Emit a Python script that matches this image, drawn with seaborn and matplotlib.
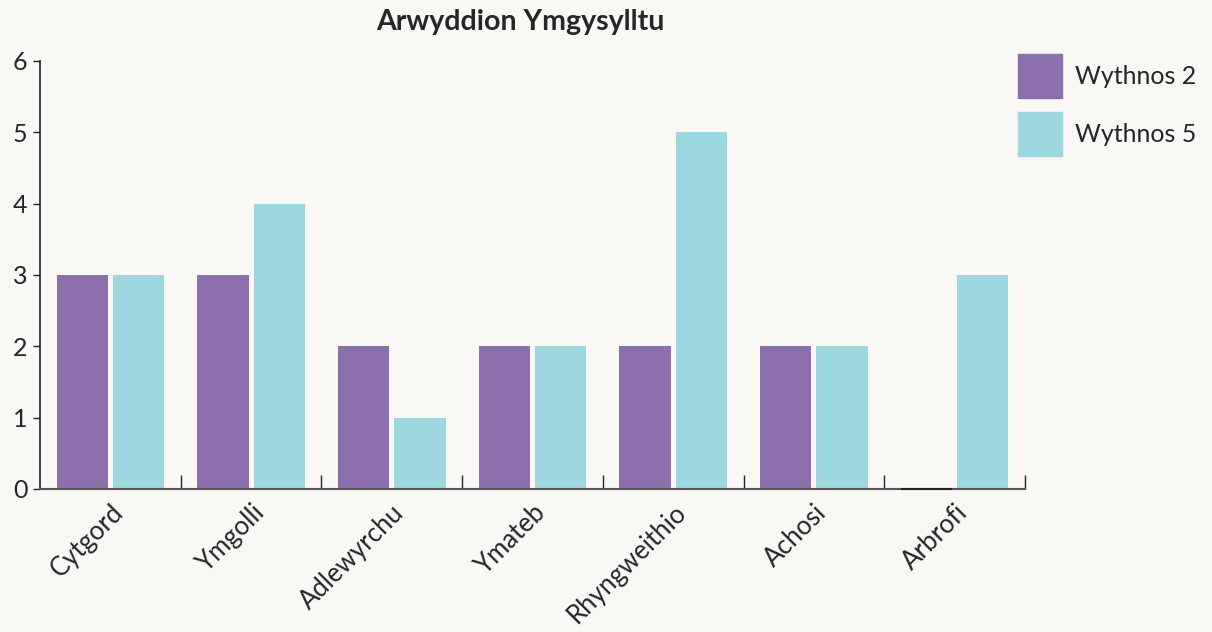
import numpy as np
import pandas as pd
import matplotlib
matplotlib.use("Agg")
import matplotlib.pyplot as plt
import seaborn as sns

# data
categories = ["Cytgord", "Ymgolli", "Adlewyrchu", "Ymateb", "Rhyngweithio", "Achosi", "Arbrofi"]
week2 = [3, 3, 2, 2, 2, 2, 0]
week5 = [3, 4, 1, 2, 5, 2, 3]
series = ["Wythnos 2", "Wythnos 5"]
colors = ["#8e6fad", "#9dd7e0"]
bg = "#f9f8f5"

df = pd.DataFrame({
    "cat": categories * 2,
    "val": week2 + week5,
    "wk": [series[0]] * len(categories) + [series[1]] * len(categories),
})

sns.set_style("white")
plt.rcParams["font.family"] = ["Lato", "DejaVu Sans"]

fig = plt.figure(figsize=(12.12, 6.32), dpi=100, facecolor=bg)
ax = fig.add_axes([40 / 1212, 1 - 489 / 632, (1025 - 40) / 1212, (489 - 61) / 632])
ax.set_facecolor(bg)

sns.barplot(data=df, x="cat", y="val", hue="wk", palette=colors, saturation=1,
            width=0.8, gap=0.09, linewidth=0, ax=ax, legend=False)

# zero height bar shows as a dark line in the original
for p in ax.patches:
    if p.get_height() == 0:
        p.set_edgecolor("#222222")
        p.set_linewidth(1.5)
        p.set_zorder(5)
        p.set_clip_on(False)

ax.set_xlim(-0.5, len(categories) - 0.5)
ax.set_ylim(0, 6)
ax.set_yticks(range(7))
ax.set_xlabel("")
ax.set_ylabel("")
ax.set_title("Arwyddion Ymgysylltu", fontsize=20.5, fontweight="bold", pad=22, x=0.488)

ax.set_xticks(range(len(categories)))
ax.set_xticklabels(categories, rotation=45, ha="right", rotation_mode="anchor")
ax.set_xticks(np.arange(len(categories)) + 0.5, minor=True)
ax.tick_params(bottom=True, left=True, which="both")
ax.tick_params(axis="x", which="major", length=0, labelsize=18.5, pad=8)
ax.tick_params(axis="x", which="minor", direction="in", length=10, width=1, color="#222222")
ax.tick_params(axis="y", direction="out", length=5, width=1, color="#222222", labelsize=18, pad=4)

sns.despine(ax=ax)
ax.spines["left"].set_color("#222222")
ax.spines["bottom"].set_color("#555555")
ax.spines["left"].set_linewidth(1.2)
ax.spines["bottom"].set_linewidth(1.5)

handles = [plt.Rectangle((0, 0), 1, 1, color=c) for c in colors]
fig.legend(handles, series, loc="upper left", bbox_to_anchor=(1018 / 1212, 1 - 54 / 632),
           frameon=False, fontsize=18, handlelength=1.76, handleheight=2.33,
           handletextpad=0.52, labelspacing=0.56, borderpad=0, borderaxespad=0)

fig.savefig("out.png", dpi=100, facecolor=bg)
